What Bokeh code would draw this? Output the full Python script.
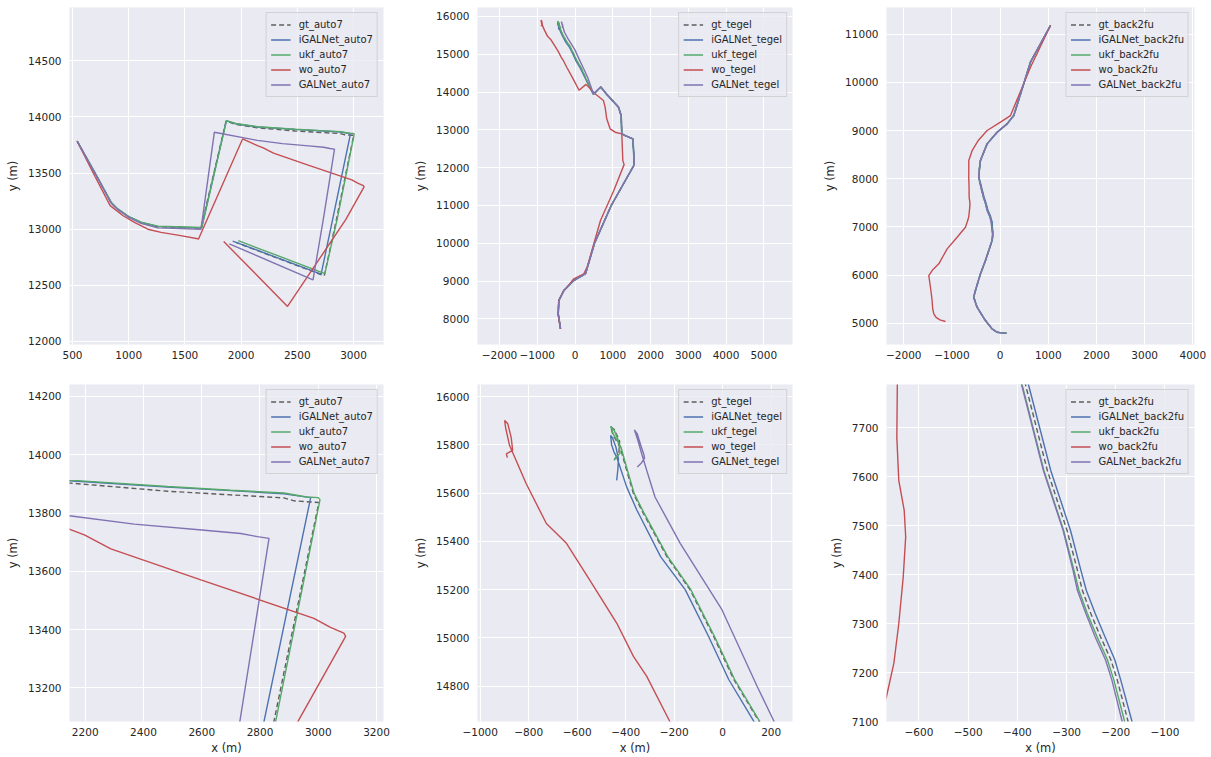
from bokeh.plotting import figure
from bokeh.layouts import column, row
from bokeh.models import FixedTicker, Range1d
from bokeh.embed import file_html
from bokeh.resources import INLINE

# ---------------- data: auto7 ----------------
gt_auto7_x = [541, 700, 844, 900, 1000, 1110, 1258, 1643, 1866, 1950, 2145, 2482, 2882, 2917, 3002, 2848, 2740, 1954]
gt_auto7_y = [13784, 13500, 13235, 13180, 13110, 13058, 13022, 13010, 13962, 13935, 13903, 13875, 13852, 13842, 13836, 13086, 12585, 12882]
iGALNet_auto7_x = [541, 700, 845, 900, 1000, 1110, 1258, 1648, 1868, 1950, 2145, 2482, 2700, 2882, 2974, 2814, 2712, 1925]
iGALNet_auto7_y = [13784, 13502, 13236, 13181, 13111, 13060, 13025, 13012, 13965, 13940, 13911, 13889, 13877, 13866, 13853, 13086, 12600, 12894]
ukf_auto7_x = [541, 700, 846, 900, 1000, 1110, 1258, 1650, 1870, 1950, 2145, 2482, 2700, 2882, 2960, 3000, 3006, 2854, 2745, 1975]
ukf_auto7_y = [13784, 13503, 13238, 13183, 13113, 13062, 13027, 13015, 13968, 13942, 13913, 13891, 13878, 13869, 13855, 13853, 13846, 13086, 12605, 12898]
wo_auto7_x = [541, 700, 835, 950, 1051, 1170, 1288, 1450, 1614, 1620, 2014, 2145, 2197, 2288, 2597, 2985, 3042, 3088, 3094, 2931, 2413, 1845]
wo_auto7_y = [13784, 13470, 13210, 13120, 13060, 13000, 12972, 12945, 12915, 12910, 13805, 13745, 13725, 13677, 13571, 13439, 13408, 13388, 13377, 13086, 12312, 12891]
GALNet_auto7_x = [541, 700, 844, 900, 1000, 1110, 1258, 1643, 1762, 2145, 2368, 2600, 2734, 2791, 2831, 2731, 2640, 1895]
GALNet_auto7_y = [13784, 13498, 13232, 13177, 13106, 13052, 13012, 13000, 13864, 13791, 13762, 13742, 13730, 13719, 13713, 13086, 12549, 12870]

# ---------------- data: tegel ----------------
gt_tegel_x = [-446, -428, -425, -446, -462, -452, -423, -396, -368, -327, -230, -134, -37, 46, 149, 327, 420, 486, 681, 840, 1150, 1221, 1239, 1327, 1531, 1566, 1557, 960, 516, 277, -32, -296, -429, -446, -385]
gt_tegel_y = [15740, 15762, 15815, 15862, 15876, 15840, 15791, 15695, 15598, 15516, 15337, 15199, 15006, 14828, 14656, 14268, 14080, 13942, 14133, 13938, 13602, 13380, 12894, 12849, 12761, 12186, 12058, 11000, 10000, 9191, 9015, 8750, 8485, 8133, 7736]
iGALNet_tegel_x = [-437, -432, -430, -440, -455, -462, -458, -448, -437, -396, -354, -256, -154, -58, 25, 128, 318, 415, 483, 678, 837, 1147, 1218, 1236, 1324, 1528, 1563, 1554, 957, 513, 274, -35, -299, -432, -449, -388]
iGALNet_tegel_y = [15653, 15700, 15743, 15790, 15830, 15839, 15800, 15770, 15750, 15626, 15530, 15337, 15199, 15006, 14828, 14656, 14268, 14080, 13940, 14131, 13936, 13600, 13378, 12892, 12847, 12759, 12184, 12056, 10998, 9998, 9189, 9013, 8748, 8483, 8131, 7734]
ukf_tegel_x = [-448, -440, -423, -430, -447, -462, -450, -420, -393, -365, -324, -227, -131, -34, 49, 152, 330, 423, 489, 684, 843, 1153, 1224, 1242, 1330, 1534, 1569, 1560, 963, 519, 280, -29, -293, -426, -443, -382]
ukf_tegel_y = [15736, 15750, 15765, 15818, 15860, 15877, 15842, 15792, 15696, 15599, 15517, 15338, 15200, 15007, 14829, 14656, 14268, 14080, 13944, 14135, 13940, 13603, 13381, 12895, 12850, 12762, 12187, 12059, 11001, 10001, 9192, 9016, 8751, 8486, 8134, 7736]
wo_tegel_x = [-888, -892, -866, -872, -886, -899, -895, -879, -810, -727, -644, -548, -437, -368, -313, -219, -50, 106, 292, 531, 752, 797, 840, 929, 1062, 1239, 1266, 1300, 1027, 674, 321, 233, -32, -208, -300, -429, -446, -385]
wo_tegel_y = [15747, 15763, 15777, 15830, 15887, 15901, 15870, 15798, 15639, 15474, 15392, 15240, 15062, 14924, 14841, 14656, 14350, 14047, 14204, 13956, 13779, 13602, 13292, 13027, 12938, 12894, 12186, 12080, 11396, 10602, 9367, 9191, 9059, 8838, 8745, 8485, 8133, 7736]
GALNet_tegel_x = [-352, -335, -322, -325, -338, -352, -364, -350, -333, -313, -279, -175, -3, 142, 211, 330, 420, 489, 684, 843, 1153, 1224, 1242, 1330, 1534, 1569, 1560, 963, 519, 280, -29, -293, -426, -443, -382]
GALNet_tegel_y = [15708, 15725, 15745, 15760, 15800, 15845, 15862, 15820, 15760, 15694, 15584, 15392, 15117, 14800, 14656, 14400, 14150, 13950, 14138, 13942, 13604, 13382, 12896, 12851, 12763, 12188, 12060, 11002, 10002, 9193, 9017, 8752, 8487, 8135, 7738]

# ---------------- data: back2fu ----------------
b2f_y = [4792, 4795, 4813, 4882, 5055, 5332, 5540, 5678, 6024, 6301, 6716, 6850, 6993, 7100, 7185, 7226, 7273, 7321, 7368, 7409, 7490, 7612, 7786, 8031, 8200, 8377, 8723, 8965, 9138, 9311, 10419, 11180]
gt_back2fu_x = [131, 60, -62, -166, -304, -478, -548, -512, -408, -304, -166, -150, -166, -175, -197, -210, -231, -251, -268, -278, -299, -339, -383, -443, -430, -408, -270, -62, 145, 284, 630, 1045]
iGALNet_back2fu_x = [131, 62, -60, -164, -302, -476, -546, -510, -406, -302, -164, -146, -160, -167, -190, -202, -222, -242, -260, -271, -292, -332, -377, -440, -428, -406, -268, -60, 147, 286, 632, 1047]
ukf_back2fu_x = [135, 58, -64, -168, -306, -480, -550, -514, -410, -306, -168, -155, -172, -182, -204, -217, -238, -258, -275, -285, -306, -346, -390, -446, -432, -410, -272, -64, 143, 282, 628, 1043]
GALNet_back2fu_x = [128, 56, -66, -170, -308, -482, -552, -516, -412, -308, -170, -158, -176, -187, -208, -221, -242, -261, -278, -287, -307, -347, -391, -447, -433, -411, -273, -65, 142, 281, 627, 1042]
wo_back2fu_x = [-1135, -1250, -1330, -1377, -1400, -1412, -1440, -1481, -1412, -1273, -1180, -1100, -893, -720, -666, -651, -641, -632, -627, -630, -641, -645, -644, -651, -651, -581, -450, -270, 7, 215, 630, 1045]
wo_back2fu_y = [5035, 5070, 5120, 5194, 5300, 5471, 5700, 5990, 6093, 6232, 6400, 6543, 6785, 6993, 7151, 7219, 7300, 7395, 7477, 7531, 7592, 7680, 7786, 8000, 8377, 8585, 8800, 9000, 9173, 9311, 10315, 11180]

methods = ["gt", "iGALNet", "ukf", "wo", "GALNet"]

datasets = {
    "auto7": {
        "gt": (gt_auto7_x, gt_auto7_y),
        "iGALNet": (iGALNet_auto7_x, iGALNet_auto7_y),
        "ukf": (ukf_auto7_x, ukf_auto7_y),
        "wo": (wo_auto7_x, wo_auto7_y),
        "GALNet": (GALNet_auto7_x, GALNet_auto7_y),
    },
    "tegel": {
        "gt": (gt_tegel_x, gt_tegel_y),
        "iGALNet": (iGALNet_tegel_x, iGALNet_tegel_y),
        "ukf": (ukf_tegel_x, ukf_tegel_y),
        "wo": (wo_tegel_x, wo_tegel_y),
        "GALNet": (GALNet_tegel_x, GALNet_tegel_y),
    },
    "back2fu": {
        "gt": (gt_back2fu_x, b2f_y),
        "iGALNet": (iGALNet_back2fu_x, b2f_y),
        "ukf": (ukf_back2fu_x, b2f_y),
        "wo": (wo_back2fu_x, wo_back2fu_y),
        "GALNet": (GALNet_back2fu_x, b2f_y),
    },
}

# tick values per panel
ticks = {
    "A": ([500, 1000, 1500, 2000, 2500, 3000], [12000, 12500, 13000, 13500, 14000, 14500]),
    "B": ([-2000, -1000, 0, 1000, 2000, 3000, 4000, 5000], [8000, 9000, 10000, 11000, 12000, 13000, 14000, 15000, 16000]),
    "C": ([-2000, -1000, 0, 1000, 2000, 3000, 4000], [5000, 6000, 7000, 8000, 9000, 10000, 11000]),
    "D": ([2200, 2400, 2600, 2800, 3000, 3200], [13200, 13400, 13600, 13800, 14000, 14200]),
    "E": ([-1000, -800, -600, -400, -200, 0, 200], [14800, 15000, 15200, 15400, 15600, 15800, 16000]),
    "F": ([-600, -500, -400, -300, -200, -100], [7100, 7200, 7300, 7400, 7500, 7600, 7700]),
}

COLORS = {"gt": "#5f5f5f", "iGALNet": "#4C72B0", "ukf": "#55A868", "wo": "#C44E52", "GALNet": "#8172B2"}
FONT = "DejaVu Sans"
TXT = "#262626"


def fmt(v):
    return str(v).replace("-", "\u2212")


def make_panel(key, ds, xr, yr, width, height, bl, br, bt, bb, xlabel):
    p = figure(width=width, height=height, x_range=Range1d(*xr), y_range=Range1d(*yr),
               output_backend="svg", toolbar_location=None,
               min_border_left=bl, min_border_right=br, min_border_top=bt, min_border_bottom=bb,
               background_fill_color="#EAEAF2", border_fill_color="white", outline_line_color=None)
    data = datasets[ds]
    for m in methods:
        xs, ys = data[m]
        kw = dict(line_color=COLORS[m], line_width=1.4, legend_label=f"{m}_{ds}")
        if m == "gt":
            kw["line_dash"] = "5 3"
        p.line(xs, ys, **kw)
    xt, yt = ticks[key]
    p.xaxis.ticker = FixedTicker(ticks=xt)
    p.yaxis.ticker = FixedTicker(ticks=yt)
    p.xaxis.major_label_overrides = {t: fmt(t) for t in xt}
    p.yaxis.major_label_overrides = {t: fmt(t) for t in yt}
    for ax in (p.xaxis, p.yaxis):
        ax.axis_line_color = None
        ax.major_tick_line_color = None
        ax.minor_tick_line_color = None
        ax.major_tick_out = 0
        ax.major_tick_in = 0
        ax.major_label_text_font = FONT
        ax.major_label_text_font_size = "10.5px"
        ax.major_label_text_color = TXT
        ax.axis_label_text_font = FONT
        ax.axis_label_text_font_size = "11.5px"
        ax.axis_label_text_font_style = "normal"
        ax.axis_label_text_color = TXT
    p.yaxis.major_label_standoff = 8
    p.xaxis.major_label_standoff = 6
    p.yaxis.axis_label = "y (m)"
    p.yaxis.axis_label_standoff = 5
    if xlabel:
        p.xaxis.axis_label = "x (m)"
        p.xaxis.axis_label_standoff = 2
    p.grid.grid_line_color = "white"
    p.grid.grid_line_width = 1.1
    lg = p.legend[0]
    lg.location = "top_right"
    lg.margin = 5
    lg.padding = 4
    lg.spacing = 0
    lg.label_height = 15
    lg.glyph_height = 15
    lg.glyph_width = 20
    lg.label_standoff = 8
    lg.label_text_font = FONT
    lg.label_text_font_size = "10px"
    lg.label_text_color = TXT
    lg.background_fill_color = "#EAEAF2"
    lg.background_fill_alpha = 0.8
    lg.border_line_color = "#cccccc"
    lg.border_line_alpha = 0.8
    return p


pA = make_panel("A", "auto7", (473, 3267), (11973, 14975), 403, 366, 69, 20, 7, 22, False)
pB = make_panel("B", "tegel", (-2583, 5760), (7320, 16238), 409, 366, 74, 20, 7, 22, False)
pC = make_panel("C", "back2fu", (-2359, 4035), (4558, 11554), 399, 366, 74, 17, 7, 22, False)
pD = make_panel("D", "auto7", (2146, 3224), (13085, 14241), 403, 391, 69, 20, 18, 35, True)
pE = make_panel("E", "tegel", (-1011, 288), (14654, 16050), 409, 391, 74, 20, 18, 35, True)
pF = make_panel("F", "back2fu", (-666, -40), (7100, 7788), 399, 391, 74, 17, 18, 35, True)

layout = column(row(pA, pB, pC), row(pD, pE, pF))
open("out.html", "w").write(file_html(layout, INLINE))
